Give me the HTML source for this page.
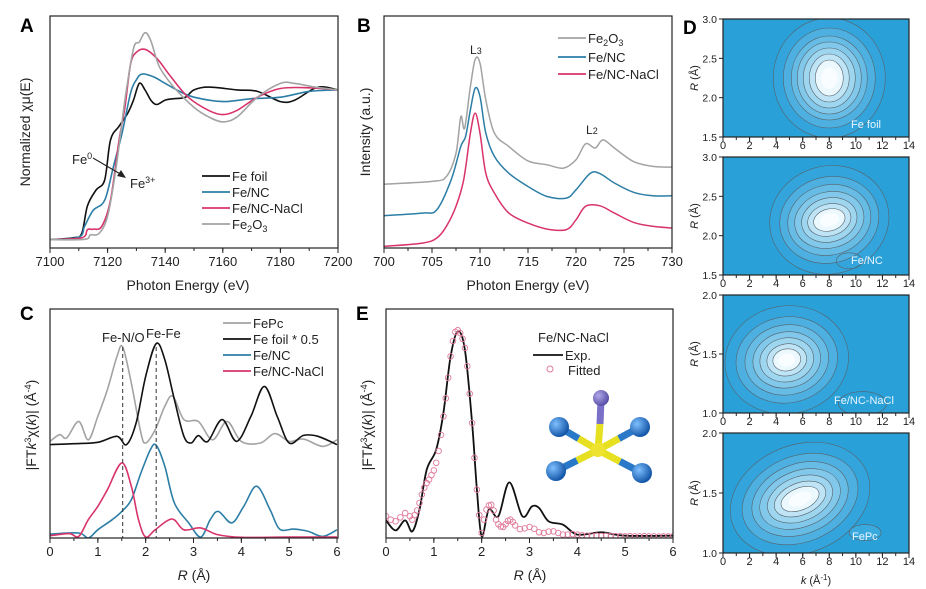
<!DOCTYPE html>
<html><head><meta charset="utf-8"><style>
body{margin:0;background:#fff;}
svg{display:block;font-family:"Liberation Sans",sans-serif;}
</style></head><body>
<svg id="fig" width="926" height="589" viewBox="0 0 926 589" xmlns="http://www.w3.org/2000/svg">
<defs>
<clipPath id="cA"><rect x="50" y="16" width="288" height="232"/></clipPath>
<clipPath id="cB"><rect x="384" y="16" width="288" height="232"/></clipPath>
<clipPath id="cC"><rect x="50" y="309" width="288" height="229"/></clipPath>
<clipPath id="cE"><rect x="386" y="309" width="287" height="229"/></clipPath>
<clipPath id="cD1"><rect x="723" y="19" width="186" height="118"/></clipPath>
<clipPath id="cD2"><rect x="723" y="157" width="186" height="118"/></clipPath>
<clipPath id="cD3"><rect x="723" y="295" width="186" height="118"/></clipPath>
<clipPath id="cD4"><rect x="723" y="433" width="186" height="120"/></clipPath>
<radialGradient id="sph" cx="35%" cy="35%" r="65%"><stop offset="0" stop-color="#7fc0ff"/><stop offset="1" stop-color="#1457a8"/></radialGradient>
<radialGradient id="sphP" cx="35%" cy="35%" r="65%"><stop offset="0" stop-color="#b0a8e8"/><stop offset="1" stop-color="#5a4fa8"/></radialGradient>
</defs>
<g id="root"></g>
</svg>
<script>
// ---------- Panel A data ----------
const aFoilX=[7100,7108,7111,7113,7116,7119,7121,7124,7127,7129,7131,7133,7135,7137,7140,7143,7147,7150,7155,7165,7172,7180,7185,7193,7200];
const aFoilY=[0.057,0.07,0.10,0.29,0.40,0.47,0.745,0.84,0.93,1.02,1.135,1.09,1.02,0.99,1.02,1.03,1.04,1.09,1.11,1.09,1.08,1.01,1.02,1.11,1.09];
const aNCX=[7100,7110,7112,7115,7119,7122,7125,7128,7130,7132,7136,7140,7145,7150,7160,7170,7180,7190,7200];
const aNCY=[0.057,0.075,0.15,0.26,0.33,0.56,0.79,1.07,1.16,1.20,1.18,1.135,1.08,1.04,1.01,1.03,1.04,1.08,1.09];
const aNaX=[7100,7111,7113,7115,7118,7121,7124,7126,7128,7130,7133,7137,7142,7148,7155,7160,7165,7172,7180,7190,7200];
const aNaY=[0.057,0.07,0.126,0.13,0.15,0.33,0.745,0.97,1.27,1.35,1.37,1.31,1.18,1.04,0.95,0.92,0.95,1.04,1.10,1.105,1.09];
const aOxX=[7100,7112,7114,7117,7120,7123,7126,7129,7131,7133,7135,7138,7143,7150,7155,7160,7165,7172,7180,7185,7192,7200];
const aOxY=[0.057,0.06,0.09,0.10,0.22,0.56,1.02,1.375,1.42,1.485,1.43,1.25,1.11,0.97,0.905,0.87,0.905,1.04,1.135,1.135,1.11,1.09];
const aTicks=[7100,7120,7140,7160,7180,7200];
// ---------- Panel B data ----------
const bOxX=[700,705,706.5,707.5,708,708.4,709,709.5,710,710.6,711.5,713,715,717,718.7,720,721,722,722.8,724,726,728,730];
const bOxY=[2.74,2.86,3.07,4.07,5.64,5.14,6.93,8.1,7.93,6.36,4.93,4.36,3.74,3.57,3.43,3.79,4.47,4.29,4.64,4.29,3.71,3.5,3.47];
const bNCX=[700,704,705.5,707,708,708.5,709,709.5,710,710.6,711.5,713,715,717,719,720,721.5,722.5,724,726,728,730];
const bNCY=[1.39,1.5,1.64,2.93,4.36,4.79,5.93,6.86,6.5,4.93,3.93,3.21,2.64,2.21,2.14,2.5,3.21,3.19,2.79,2.39,2.24,2.24];
const bNaX=[700,704,705.5,706.5,707.5,708.3,709,709.5,710,710.6,711.5,713,715,717,719,720,721,722.5,724,726,728,730];
const bNaY=[0.07,0.21,0.43,0.93,1.79,2.93,4.93,5.79,4.93,3.21,2.36,1.5,1.07,0.81,0.79,1.21,1.79,1.81,1.5,1.1,0.93,0.86];
const bTicks=[700,705,710,715,720,725,730];
// ---------- Panel C data ----------
const cPcX=[0,0.2,0.35,0.6,0.8,1.0,1.2,1.4,1.52,1.7,1.9,2.0,2.2,2.4,2.57,2.8,3.1,3.4,3.7,4.0,4.4,4.7,5.0,5.3,5.7,6.0];
const cPcY=[4.22,4.51,4.37,5.09,4.29,5.31,6.48,7.93,8.34,6.77,4.59,4.15,4.73,5.75,6.19,5.17,5.09,4.29,5.09,4.22,4.15,4.56,4.22,4.32,4.0,4.29];
const cFoilX=[0,0.5,1.0,1.4,1.6,1.8,2.0,2.22,2.4,2.6,2.8,2.95,3.1,3.3,3.6,3.9,4.2,4.48,4.75,5.0,5.3,5.6,6.0];
const cFoilY=[4.08,4.12,4.18,4.44,4.08,5.02,7.06,8.49,7.79,6.04,4.44,4.15,4.47,4.22,5.17,4.22,5.31,6.62,5.31,4.15,4.48,4.44,4.08];
const cNCX=[0,0.6,0.8,1.0,1.3,1.5,1.7,1.9,2.1,2.22,2.4,2.6,2.9,3.15,3.35,3.52,3.8,4.05,4.32,4.6,4.8,5.1,5.4,5.7,6.0];
const cNCY=[0.17,0.22,0,0.36,0.80,1.16,1.67,2.84,3.86,4.05,3.13,1.53,0.66,0.04,0.8,1.16,0.66,1.38,2.26,1.24,0.39,0.39,0.29,0.07,0.36];
const cNaX=[0,0.4,0.6,0.8,1.0,1.2,1.5,1.7,1.85,2.0,2.2,2.55,2.8,3.15,3.5,4.0,5.0,6.0];
const cNaY=[0.1,0.19,0.07,0.8,1.38,2.11,3.28,2.26,0.8,0.04,0.36,0.83,0.36,0.44,0.15,0.03,0.04,0.04];
const rTicks=[0,1,2,3,4,5,6];
// ---------- Panel E data ----------
const eExpX=[0,0.2,0.4,0.55,0.7,0.85,1.05,1.2,1.35,1.5,1.65,1.8,1.9,2.0,2.15,2.35,2.58,2.85,3.05,3.2,3.4,3.7,4.0,4.5,5.0,6.0];
const eExpY=[0.77,0.33,0.77,0.29,1.24,2.98,3.86,5.46,7.93,9.02,8.22,5.02,2.11,0.07,1.24,0.95,2.43,0.95,1.38,1.31,0.73,0.58,0.15,0.25,0.1,0.1];
const eFitX=[0,0.1,0.2,0.3,0.4,0.5,0.55,0.6,0.65,0.7,0.75,0.8,0.85,0.9,0.95,1.0,1.05,1.1,1.15,1.2,1.25,1.3,1.35,1.4,1.45,1.5,1.55,1.6,1.65,1.7,1.75,1.8,1.85,1.9,1.95,2.0,2.05,2.1,2.15,2.2,2.25,2.3,2.35,2.4,2.45,2.5,2.55,2.6,2.65,2.7,2.8,2.9,3.0,3.1,3.2,3.3,3.4,3.5,3.6,3.7,3.8,3.9,4.0,4.1,4.2,4.3,4.4,4.5,4.6,4.7,4.8,4.9,5.0,5.1,5.2,5.3,5.4,5.5,5.6,5.7,5.8,5.9,6.0];
const eFitY=[0.95,0.8,0.73,0.9,1.09,0.95,0.8,1.0,1.2,1.53,1.9,2.2,2.4,2.55,2.75,2.95,3.28,3.8,4.5,5.31,6.1,7.0,7.93,8.6,9.0,9.07,8.95,8.7,8.3,7.5,6.3,5.02,3.5,2.11,1.0,0.22,0.8,1.24,1.42,1.45,1.2,0.8,0.6,0.5,0.48,0.6,0.75,0.8,0.7,0.55,0.39,0.42,0.48,0.4,0.25,0.22,0.28,0.29,0.22,0.15,0.15,0.17,0.15,0.12,0.1,0.11,0.1,0.09,0.1,0.09,0.08,0.08,0.07,0.08,0.07,0.07,0.08,0.07,0.07,0.06,0.07,0.07,0.07];
// ---------- Panel D tick labels ----------
const kTicks=[0,2,4,6,8,10,12,14];
const d12Ticks=[1.5,2.0,2.5,3.0];
const d34Ticks=[1.0,1.5,2.0];

const NS='http://www.w3.org/2000/svg';
const root=document.getElementById('root');
function mk(tag,attrs,parent,text){const e=document.createElementNS(NS,tag);for(const k in attrs)e.setAttribute(k,attrs[k]);if(text!==undefined)e.textContent=text;(parent||root).appendChild(e);return e;}
function scale(d0,d1,r0,r1){return v=>r0+(v-d0)/(d1-d0)*(r1-r0);}
function linePath(xs,ys,sx,sy){
  const P=xs.map((x,i)=>[sx(x),sy(ys[i])]);
  let d='M'+P[0][0].toFixed(1)+','+P[0][1].toFixed(1);
  for(let i=0;i<P.length-1;i++){
    const p0=P[i-1]||P[i],p1=P[i],p2=P[i+1],p3=P[i+2]||P[i+1];
    const c1=[p1[0]+(p2[0]-p0[0])/6,p1[1]+(p2[1]-p0[1])/6];
    const c2=[p2[0]-(p3[0]-p1[0])/6,p2[1]-(p3[1]-p1[1])/6];
    d+='C'+c1[0].toFixed(1)+','+c1[1].toFixed(1)+' '+c2[0].toFixed(1)+','+c2[1].toFixed(1)+' '+p2[0].toFixed(1)+','+p2[1].toFixed(1);
  }
  return d;
}
const BLK='#111',BLU='#2c7ea6',PNK='#d8346a',GRY='#a3a3a3';

function frame(x0,y0,x1,y1,name){
  const r=mk('rect',{x:x0,y:y0,width:x1-x0,height:y1-y0,fill:'none',stroke:'#222','stroke-width':1.2});
  
  
}
function xAxis(ticks,minorStep,sx,y,labelY,name,fs){
  const g=mk('g',{});
  
  
  const t0=ticks[0],t1=ticks[ticks.length-1];
  for(let v=t0;v<=t1+1e-9;v+=minorStep){mk('line',{x1:sx(v),x2:sx(v),y1:y,y2:y+3,stroke:'#222','stroke-width':1},g);}
  ticks.forEach(v=>{mk('line',{x1:sx(v),x2:sx(v),y1:y,y2:y+5,stroke:'#222','stroke-width':1},g);
    const t=mk('text',{x:sx(v),y:labelY,'text-anchor':'middle','font-size':fs||13,fill:'#222'},g,String(v));
    
    });
}
function txt(x,y,s,fs,name,extra){const t=mk('text',Object.assign({x:x,y:y,'font-size':fs,fill:'#222'},extra||{}),root,s);return t;}
function series(xs,ys,sx,sy,color,name,clip,w){const p=mk('path',{d:linePath(xs,ys,sx,sy),fill:'none',stroke:color,'stroke-width':w||1.6,'clip-path':'url(#'+clip+')','stroke-linejoin':'round'});return p;}
function legendLine(x,y,color,label,name){const l=mk('line',{x1:x,x2:x+28,y1:y,y2:y,stroke:color,'stroke-width':1.8});return txt(x+30,y+5,label,13,name);}

// ===== Panel A =====
{const sx=scale(7100,7200,50,338),sy=scale(0,1.6,248,16);
series(aFoilX,aFoilY,sx,sy,BLK,'fe-foil-line','cA');
series(aNCX,aNCY,sx,sy,BLU,'fe-nc-line','cA');
series(aNaX,aNaY,sx,sy,PNK,'fe-nc-nacl-line','cA');
series(aOxX,aOxY,sx,sy,GRY,'fe2o3-line','cA');
frame(50,16,338,248,'panel-a');
xAxis(aTicks,10,sx,248,266,'panel-a');
txt(188,290,'Photon Energy (eV)',14,'panel-a-x-title',{'text-anchor':'middle'});
txt(0,0,'Normalized χμ(E)',14,'panel-a-y-title',{'text-anchor':'middle',transform:'translate(30,132) rotate(-90)'});
txt(20,32,'A',19,'panel-a-label',{'font-weight':'bold',fill:'#000'});
legendLine(202,176,BLK,'Fe foil','legend-fe-foil');
legendLine(202,192,BLU,'Fe/NC','legend-fe-nc');
legendLine(202,208,PNK,'Fe/NC-NaCl','legend-fe-nc-nacl');
const t=legendLine(202,224,GRY,'Fe','legend-fe2o3');mk('tspan',{'font-size':9,dy:3},t,'2');mk('tspan',{dy:-3},t,'O');mk('tspan',{'font-size':9,dy:3},t,'3');
const f0=txt(72,164,'Fe',13,'fe0-label');mk('tspan',{'font-size':9,dy:-5},f0,'0');
const f3=txt(130,188,'Fe',13,'fe3-label');mk('tspan',{'font-size':9,dy:-5},f3,'3+');
const ar=mk('path',{d:'M93,158 L122,175',stroke:'#222','stroke-width':1.1,fill:'none'});
mk('path',{d:'M126,178 L117,176 L121,170 Z',fill:'#222'});
}
// ===== Panel B =====
{const sx=scale(700,730,384,672),sy=scale(0,10,248,15);
series(bOxX,bOxY,sx,sy,GRY,'b-fe2o3-line','cB',1.5);
series(bNCX,bNCY,sx,sy,BLU,'b-fe-nc-line','cB',1.5);
series(bNaX,bNaY,sx,sy,PNK,'b-fe-nc-nacl-line','cB',1.5);
frame(384,16,672,248,'panel-b');
xAxis(bTicks,2.5,sx,248,266,'panel-b');
txt(528,290,'Photon Energy (eV)',14,'panel-b-x-title',{'text-anchor':'middle'});
txt(0,0,'Intensity (a.u.)',14,'panel-b-y-title',{'text-anchor':'middle',transform:'translate(370,132) rotate(-90)'});
txt(357,32,'B',19,'panel-b-label',{'font-weight':'bold',fill:'#000'});
const t=legendLine(558,38,GRY,'Fe','legend-b-fe2o3');mk('tspan',{'font-size':9,dy:3},t,'2');mk('tspan',{dy:-3},t,'O');mk('tspan',{'font-size':9,dy:3},t,'3');
legendLine(558,57,BLU,'Fe/NC','legend-b-fe-nc');
legendLine(558,74,PNK,'Fe/NC-NaCl','legend-b-fe-nc-nacl');
const l3=txt(470,54,'L',12,'l3-label');mk('tspan',{'font-size':9},l3,'3');
const l2=txt(586,134,'L',12,'l2-label');mk('tspan',{'font-size':9},l2,'2');
}
// ===== Panel C =====
{const sx=scale(0,6,50,337),sy=scale(0,10,538,309);
series(cPcX,cPcY,sx,sy,GRY,'c-fepc-line','cC');
series(cFoilX,cFoilY,sx,sy,BLK,'c-fe-foil-line','cC');
series(cNCX,cNCY,sx,sy,BLU,'c-fe-nc-line','cC');
series(cNaX,cNaY,sx,sy,PNK,'c-fe-nc-nacl-line','cC');
[1.52,2.22].forEach(v=>{const l=mk('line',{x1:sx(v),x2:sx(v),y1:347,y2:538,stroke:'#333','stroke-width':1,'stroke-dasharray':'4,3'});});
frame(50,309,338,538,'panel-c');
xAxis(rTicks,0.5,sx,538,556,'panel-c');
const xt=txt(194,580,'',14,'panel-c-x-title',{'text-anchor':'middle'});mk('tspan',{'font-style':'italic'},xt,'R');mk('tspan',{},xt,' (Å)');
const yt=txt(0,0,'|FT',14,'panel-c-y-title',{'text-anchor':'middle',transform:'translate(36,425) rotate(-90)'});mk('tspan',{'font-style':'italic'},yt,'k');mk('tspan',{'font-size':9,dy:-5},yt,'3');mk('tspan',{dy:5},yt,'χ(');mk('tspan',{'font-style':'italic'},yt,'k');mk('tspan',{},yt,')|  (Å');mk('tspan',{'font-size':9,dy:-5},yt,'-4');mk('tspan',{dy:5},yt,')');
txt(20,320,'C',19,'panel-c-label',{'font-weight':'bold',fill:'#000'});
legendLine(223,323,GRY,'FePc','legend-c-fepc');
legendLine(223,339,BLK,'Fe foil * 0.5','legend-c-fe-foil');
legendLine(223,355,BLU,'Fe/NC','legend-c-fe-nc');
legendLine(223,371,PNK,'Fe/NC-NaCl','legend-c-fe-nc-nacl');
txt(102,342,'Fe-N/O',13,'fe-n-o-label');
txt(146,338,'Fe-Fe',13,'fe-fe-label');
}
// ===== Panel E =====
{const sx=scale(0,6,386,673),sy=scale(0,10,538,309);
series(eExpX,eExpY,sx,sy,BLK,'e-exp-line','cE',1.8);
const g=mk('g',{'clip-path':'url(#cE)'});
eFitX.forEach((x,i)=>{const c=mk('circle',{cx:sx(x),cy:sy(eFitY[i]),r:2.8,fill:'none',stroke:'#e07a9a','stroke-width':0.9},g);});
frame(386,309,673,538,'panel-e');
xAxis(rTicks,0.5,sx,538,556,'panel-e');
const xt=txt(530,580,'',14,'panel-e-x-title',{'text-anchor':'middle'});mk('tspan',{'font-style':'italic'},xt,'R');mk('tspan',{},xt,' (Å)');
const yt=txt(0,0,'|FT',14,'panel-e-y-title',{'text-anchor':'middle',transform:'translate(372,425) rotate(-90)'});mk('tspan',{'font-style':'italic'},yt,'k');mk('tspan',{'font-size':9,dy:-5},yt,'3');mk('tspan',{dy:5},yt,'χ(');mk('tspan',{'font-style':'italic'},yt,'k');mk('tspan',{},yt,')|  (Å');mk('tspan',{'font-size':9,dy:-5},yt,'-4');mk('tspan',{dy:5},yt,')');
txt(356,320,'E',19,'panel-e-label',{'font-weight':'bold',fill:'#000'});
txt(538,342,'Fe/NC-NaCl',13,'legend-e-title');
const l=mk('line',{x1:533,x2:563,y1:355,y2:355,stroke:BLK,'stroke-width':1.8});
txt(565,360,'Exp.',13,'legend-exp');
const c=mk('circle',{cx:550,cy:369,r:3,fill:'none',stroke:'#e07a9a'});
txt(568,375,'Fitted',13,'legend-fitted');
// molecule
const m=mk('g',{});
const cx=598,cy=450;
[[559,427],[640,427],[556,471],[642,473]].forEach(p=>{
 mk('line',{x1:cx,y1:cy,x2:(cx+p[0])/2,y2:(cy+p[1])/2,stroke:'#e6e020','stroke-width':7},m);
 mk('line',{x1:(cx+p[0])/2,y1:(cy+p[1])/2,x2:p[0],y2:p[1],stroke:'#2a78c8','stroke-width':7},m);});
mk('line',{x1:cx,y1:cy,x2:600,y2:424,stroke:'#e6e020','stroke-width':7},m);
mk('line',{x1:600,y1:424,x2:601,y2:400,stroke:'#7a70c8','stroke-width':7},m);
mk('circle',{cx:cx,cy:cy,r:7,fill:'#eee430'},m);
mk('circle',{cx:601,cy:398,r:8,fill:'url(#sphP)'},m);
[[559,427],[640,427],[556,471],[642,473]].forEach(p=>mk('circle',{cx:p[0],cy:p[1],r:10,fill:'url(#sph)'},m));
}
// ===== Panel D =====
function dPanel(y0,y1,clip,ticks,dmin,dmax,cxk,cyR,rxs,rys,rot,label,lx,ly,name,extra){
 const sx=scale(0,14,723,909),sy=scale(dmin,dmax,y1,y0);
 const g=mk('g',{'clip-path':'url(#'+clip+')'});
 mk('rect',{x:723,y:y0,width:186,height:y1-y0,fill:'#2aa0d8'},g);
 const n=rxs.length;
 for(let i=n-1;i>=0;i--){const f=Math.pow(i/(n-1),0.8);const r=Math.round(52+(235-52)*(1-f)),gg=Math.round(165+(248-165)*(1-f)),b=Math.round(220+(253-220)*(1-f));
  mk('ellipse',{cx:sx(cxk),cy:sy(cyR),rx:rxs[i],ry:rys[i],fill:'rgb('+r+','+gg+','+b+')',stroke:'#55626c','stroke-width':0.6,transform:'rotate('+rot+' '+sx(cxk)+' '+sy(cyR)+')'},g);}
 mk('ellipse',{cx:sx(cxk),cy:sy(cyR),rx:rxs[0]*0.6,ry:rys[0]*0.6,fill:'#fafdff',transform:'rotate('+rot+' '+sx(cxk)+' '+sy(cyR)+')'},g);
 if(extra)extra(g,sx,sy);
 frame(723,y0,909,y1,name);
 const ax=mk('g',{});
 ticks.forEach(v=>{mk('line',{x1:719,x2:723,y1:sy(v),y2:sy(v),stroke:'#222'},ax);const t=mk('text',{x:717,y:sy(v)+4,'text-anchor':'end','font-size':10.5,fill:'#222'},ax,v.toFixed(1));});
 xAxis(kTicks,1,sx,y1,y1+12,name,11);
 const yt=txt(0,0,'',11,name+'-y-title',{'text-anchor':'middle',transform:'translate(698,'+((y0+y1)/2)+') rotate(-90)'});mk('tspan',{'font-style':'italic'},yt,'R');mk('tspan',{},yt,' (Å)');
 txt(lx,ly,label,11,name+'-label',{fill:'#e8f6ff'});
}
dPanel(19,137,'cD1',d12Ticks,1.5,3.0,8,2.25,[14,20,26,32,38,46,56],[18,24,30,36,42,50,60],0,'Fe foil',851,128,'d-fe-foil');
dPanel(157,275,'cD2',d12Ticks,1.5,3.0,8,2.2,[16,22,28,35,42,50,60],[11,16,22,28,35,43,54],-15,'Fe/NC',851,264,'d-fe-nc',(g,sx,sy)=>{mk('ellipse',{cx:sx(9.5),cy:sy(1.68),rx:13,ry:8,fill:'none',stroke:'#55626c','stroke-width':0.6},g);});
dPanel(295,413,'cD3',d34Ticks,1.0,2.0,4.8,1.45,[14,20,27,34,42,51,62],[11,16,22,28,35,43,54],-10,'Fe/NC-NaCl',834,404,'d-fe-nc-nacl',(g,sx,sy)=>{mk('ellipse',{cx:sx(10.5),cy:sy(1.08),rx:24,ry:12,fill:'none',stroke:'#55626c','stroke-width':0.6},g);});
dPanel(433,553,'cD4',d34Ticks,1.0,2.0,5.8,1.45,[20,27,34,42,50,60,72],[11,16,22,28,35,43,54],-22,'FePc',852,540,'d-fepc',(g,sx,sy)=>{mk('ellipse',{cx:sx(10.7),cy:sy(1.17),rx:16,ry:8,fill:'#3aa9de',stroke:'#55626c','stroke-width':0.6},g);});
const kt=txt(816,584,'',11,'d-x-title',{'text-anchor':'middle'});mk('tspan',{'font-style':'italic'},kt,'k');mk('tspan',{},kt,' (Å');mk('tspan',{'font-size':8,dy:-4},kt,'-1');mk('tspan',{dy:4},kt,')');
txt(683,34,'D',19,'panel-d-label',{'font-weight':'bold',fill:'#000'});
</script>
</body></html>
